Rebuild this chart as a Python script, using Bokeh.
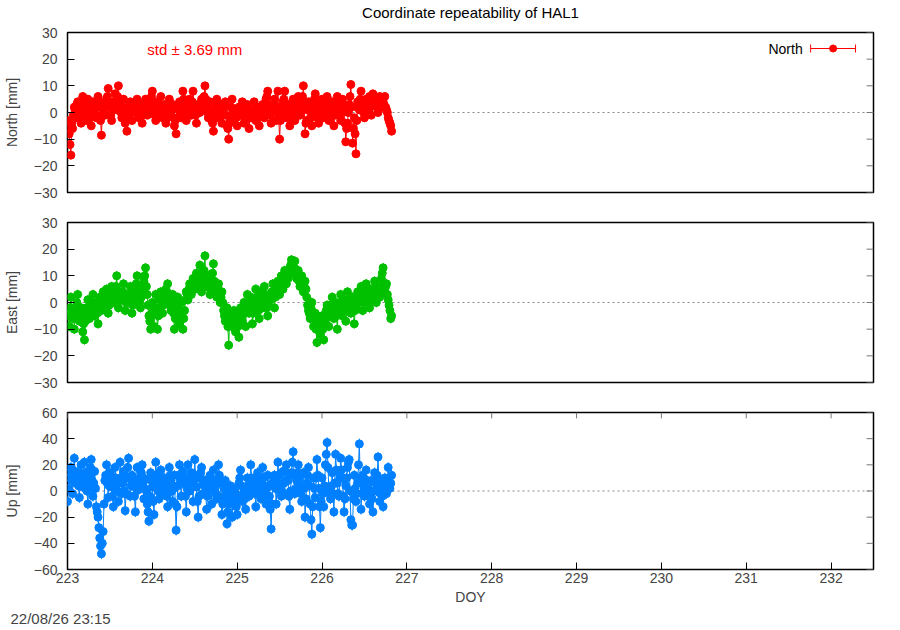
from bokeh.plotting import figure
from bokeh.layouts import column
from bokeh.models import Range1d, FixedTicker, Span, Title, ColumnDataSource
from bokeh.core.properties import value
from bokeh.embed import file_html
from bokeh.resources import INLINE

# epochs every 0.01 day starting at DOY 223
day_start = 223.0
day_step = 0.01

north = [
    -3, -6, -8, -12, -16, -4, -6, -1, 2, 1, -2, 3, 4, 2, 1, -1, -4, 2, 6, 4,
    3, 0, -3, 2, 5, 1, 0, -2, -5, 1, 4, 2, 1, -1, -2, 3, 6, 4, 2, -3,
    -8.5, -1, 3, 1, -1, 2, 5, 6, 9, 4, 2, -1, -3, 1, 4, 3, 7, 2, 1, 6,
    10, 5, 3, 0, -2, 2, 5, 0, -4, -3, -7, -2, 1, 3, 4, 0, -3, 1, 2, 3,
    0, 2, 5, 1, -2, 0, 3, -1, -4, -1, 1, 3, 5, 2, -1, 1, 2, 0, 4, 6,
    8, 4, 2, -1, -3, 1, 4, 2, 0, 3, 6, 1, -2, 0, 3, 1, -4, -2, 1, 3,
    5, 2, -1, 1, 3, -2, -5, -3, -8, -2, 2, 1, 4, 0, -2, 3, 8, 5, 3, 0,
    -3, -1, 1, 3, 5, 2, -1, 4, 8, 3, 2, -1, -4, 0, 3, 1, 0, 2, 5, 4,
    2, 6, 10, 5, 3, 0, -2, 1, 4, 0, -3, -4, -7, -2, 1, 3, 5, 1, -2, 0,
    3, 0, -4, -1, 0, 2, 4, -1, -5, -6, -10, -4, -2, 2, 5, 1, -3, -1, 1, -2,
    -5, -1, 2, 0, -1, 1, 4, 0, -4, -2, 0, 1, 3, -2, -6, -2, 1, 0, -2, 1,
    4, 0, -3, -1, 2, -2, -5, -1, 0, 2, 3, 0, -2, 2, 5, 6, 8, 3, 1, -1,
    -4, 0, 2, 3, 5, 1, -3, 2, 8, -2, -10, -3, 0, 2, 4, 5, 8, 2, -2, 1,
    3, -1, -5, -2, 1, 3, 5, 0, -3, 0, 2, 4, 6, 2, -1, 1, 3, 6, 10, 4,
    -8, -4, -3, 1, 4, 2, 1, -2, -5, -1, 3, 5, 7, 3, 0, -2, -4, -1, 2, 3,
    5, 1, -2, 0, 3, 4, 6, 2, -3, -1, 1, 2, 4, -1, -5, -1, 2, 4, 6, 3,
    0, -1, -3, 1, 5, 3, 2, -4, -11, -6, -4, 0, 3, 6, 10.5, 2, -11.5, -6, -2, -8,
    -15.5, -3, 4, 2, 1, 5, 8, 4, 3, 0, -2, 2, 5, 3, 1, 4, 6, 2, -1, 3,
    7, 5, 3, 4, 5, 2, 0, 3, 6, 4, 2, 5, 4, 3, 6, 2, 1, 0, -2, -3,
    -4, -5, -7,
]
east = [
    -5, -3, -9, -2, 2, -3, -6, -4, -10, -5, -3, 0, 3, -2, -7, -4, -2, -6, -11, -8,
    -14, -7, -4, -2, 1, -3, -6, -1, -2, 0, 3, -1, -5, -3, 0, -4, -8, -3, 2, 0,
    -3, 1, 4, 2, -1, 3, 5, 0, -4, -1, 2, 4, 6, 2, 0, 1, 3, 6, 10, 4,
    -2, 1, 4, 3, 1, 4, 7, 2, -3, 0, 3, 2, 0, 3, 6, 1, -4, -1, 2, 3,
    5, 7, 10, 4, 1, 0, -2, 2, 4, 6, 8, 10, 13, 6, 3, -1, -5, -7, -10, -4,
    0, -4, -9, -2, 3, -3, -10, -5, -2, 1, 4, 0, -4, -1, 2, 3, 5, 4, 7, 3,
    1, -1, -3, 0, 3, -4, -10, -6, -5, -1, 2, -3, -8, -3, 0, -5, -10, -6, -3, 1,
    4, 3, 1, 5, 7, 4, 3, 6, 9, 7, 5, 8, 11, 8, 6, 10, 14, 8, 4, 7,
    8, 12, 17.5, 9, 6, 8, 10, 6, 3, 5, 8, 11, 14.5, 8, 5, 3, 2, 5, 7, 3,
    0, 2, 4, 0, -3, -5, -7, -4, -2, -9, -16, -8, -6, -7, -9, -5, -3, -7, -11, -8,
    -5, -9, -13, -6, -2, -4, -7, -3, 0, -4, -9, -2, 3, 0, -4, -1, 2, -3, -8, -4,
    -3, 1, 5, 2, -1, -3, -6, 0, 4, 1, -2, 2, 6, 3, 0, -2, -5, -1, 3, 1,
    2, 4, 7, 2, -2, 2, 5, 6, 8, 5, 3, 6, 10, 7, 5, 9, 12, 9, 7, 10,
    9, 11, 13, 14, 16, 12, 11, 13, 15.5, 11, 9, 10, 12, 8, 6, 8, 10, 7, 4, 6,
    8, 5, 2, -1, -3, -4, -6, -2, 0, -5, -9, -6, -4, -10, -15, -9, -7, -10, -12, -7,
    -5, -10, -14, -8, -6, -3, -1, -5, -9, -5, -3, -1, 2, -2, -6, -3, 0, -5, -10, -4,
    -2, 0, 3, -1, -5, -2, 1, -3, -7, -1, 4, 1, -1, -2, -4, 0, 2, -3, -8, -3,
    -2, 1, 4, 2, 0, 3, 6, 1, -3, 0, 2, 4, 7, 3, 1, 0, -2, 2, 5, 4,
    3, 5, 8, 3, 0, 2, 5, 4, 2, 6, 9, 11, 13, 7, 4, 6, 7, 3, 1, -1,
    -3, -6, -5,
]
up = [
    -8, 2, 10, 14, 18, 8, -2, 12, 25, 15, 6, 10, 14, 4, -5, 8, 20, 12, 3, 10,
    22, 14, 8, 0, -10, 2, 12, 18, 24, 8, -4, 6, 15, 2, -12, -16, -20, -28, -36, -42,
    -48, -40, -31, -10, 8, 12, 20, 6, -5, 4, 14, 8, 3, -4, -12, 4, 18, 10, 6, 0,
    -8, 6, 22, 10, -2, 6, 15, 0, -15, -2, 10, 18, 25, 10, -4, 4, 12, 8, 5, -4,
    -16, 2, 18, 8, 1, 6, 10, 14, 20, 6, -6, 2, 9, 0, -10, -16, -23, -4, 14, 8,
    3, -8, -18, 4, 22, 12, 6, 0, -6, 6, 16, 6, -2, 4, 10, 6, 4, -4, -12, 2,
    18, 12, 8, 0, -8, 2, 12, -10, -30, -12, 4, 12, 20, 8, -4, 6, 15, 10, 6, -4,
    -16, 2, 20, 10, 0, 6, 14, 4, -8, 8, 24, 12, 3, -8, -20, -4, 10, 14, 18, 8,
    -2, 4, 8, -2, -14, -4, 4, 8, 12, 2, -10, 2, 16, 8, 2, -2, -6, 6, 20, 12,
    6, -6, -18, -10, -4, 2, 8, -6, -25, -16, -10, -2, 4, -6, -20, -8, 2, -2, -6, -12,
    -18, -6, 6, 10, 16, 4, -8, -2, 2, -6, -14, -2, 10, 4, -4, 6, 20, 10, 0, 4,
    8, -2, -12, 2, 14, 8, 2, -2, -6, 6, 18, 10, 4, -2, -10, 2, 12, 4, -4, -14,
    -29, -10, 6, 8, 12, 2, -10, 6, 22, 12, 4, 0, -4, 6, 15, 6, -2, 8, 20, 14,
    8, -4, -14, 0, 14, 22, 30, 12, -2, 2, 8, 14, 20, 10, 4, -2, -8, 4, 14, 2,
    -20, -6, 6, 12, 18, 4, -10, -22, -33, -12, 10, 2, -5, 10, 24, 12, 2, -12, -28, -8,
    10, -2, -12, 4, 20, 28, 37, 18, 2, -2, -6, 4, 14, -2, -16, 6, 28, 16, 6, -2,
    -4, 10, 25, 16, 10, -4, -16, -6, 4, 10, 18, 22, 24, 0, -22, -26, -26, -6, 12, 2,
    -8, -2, 6, 20, 36, 10, -14, -2, 12, 4, -4, 6, 16, 8, 2, -4, -10, 0, 8, -6,
    -16, 0, 14, 6, 0, 12, 26, 8, -8, -2, 4, -4, -12, 0, 10, 4, -2, 8, 18, 8,
    2, 6, 12,
]
sigmas = {"North": 1.5, "East": 1.8, "Up": 4.0}
stds = {"North": 3.69, "East": 5.48, "Up": 11.57}
colors = {"North": "#ff0000", "East": "#00c000", "Up": "#0080ff"}
x_ticks = list(range(223, 233))

FONT = "Liberation Sans"
FRAME_W, FRAME_H = 808, 160
LEFT, RIGHT = 65, 19
TOTAL_W = LEFT + FRAME_W + RIGHT
X0, X1 = 223, 232.5
x_range = Range1d(X0, X1)
PX_X = (X1 - X0) / FRAME_W


def xd(px):
    # picture pixel -> DOY
    return X0 + (px - LEFT) * PX_X


def yd(py, top, ylim):
    # picture pixel -> mm, for a frame whose top edge is at `top`
    return ylim - (py - top) * 2 * ylim / FRAME_H


def style_axis(a, label_standoff):
    a.axis_line_color = None
    a.major_tick_in = 7
    a.major_tick_out = 0
    a.minor_tick_line_color = None
    a.major_tick_line_color = "black"
    a.major_label_text_font = FONT
    a.major_label_text_font_size = "14px"
    a.major_label_standoff = label_standoff
    a.axis_label_text_font = FONT
    a.axis_label_text_font_size = "14px"
    a.axis_label_text_font_style = "normal"


def panel(name, values, ylim, ystep, top_px, b_top, b_bottom, last=False):
    color = colors[name]
    p = figure(width=TOTAL_W, height=b_top + FRAME_H + b_bottom,
               x_range=x_range, y_range=Range1d(-ylim, ylim),
               x_axis_type="linear" if last else None,
               output_backend="svg", toolbar_location=None,
               min_border_left=LEFT, min_border_right=RIGHT,
               min_border_top=b_top, min_border_bottom=b_bottom)
    p.grid.visible = False
    p.outline_line_color = "black"
    p.outline_line_width = 1.5

    y_ticks = list(range(-ylim, ylim + 1, ystep))
    ax = p.yaxis[0]
    ax.ticker = FixedTicker(ticks=y_ticks)
    ax.axis_label = f"{name} [mm]"
    style_axis(ax, 10)
    ax.axis_label_standoff = 11

    # mirrored ticks on the right edge
    tk = 7 * PX_X
    p.segment(x0=[X1] * len(y_ticks), y0=y_ticks, x1=[X1 - tk] * len(y_ticks), y1=y_ticks,
              color="#777777", line_width=1)

    if last:
        bx = p.xaxis[0]
        bx.ticker = FixedTicker(ticks=x_ticks)
        bx.axis_label = "DOY"
        style_axis(bx, 3)
        bx.axis_label_standoff = 3
        # mirrored ticks on the top edge
        ty = 6 * 2 * ylim / FRAME_H
        p.segment(x0=x_ticks, y0=[ylim] * len(x_ticks), x1=x_ticks, y1=[ylim - ty] * len(x_ticks),
                  color="#777777", line_width=1)

    # zero reference line
    p.add_layout(Span(location=0, dimension="width", line_color="#888888",
                      line_dash="2 3", line_width=1, level="underlay"))

    sig = sigmas[name]
    doy = [day_start + day_step * i for i in range(len(values))]
    src = ColumnDataSource(dict(x=doy, y=values,
                                lo=[v - sig for v in values],
                                hi=[v + sig for v in values]))
    p.segment(x0="x", y0="lo", x1="x", y1="hi", source=src, color=color, line_width=1)
    p.line("x", "y", source=src, color=color, line_width=1)
    p.scatter("x", "y", source=src, size=8, color=color)

    # std annotation
    p.text(x=[xd(145)], y=[yd(49, top_px, ylim)], text=[f"std \u00b1 {stds[name]:.2f} mm"],
           text_color=color, text_font=value(FONT), text_font_size="15px",
           text_baseline="middle")

    # key: label on the left, error-bar sample on the right
    ly = yd(48, top_px, ylim)
    cap = 4 * 2 * ylim / FRAME_H
    p.text(x=[xd(802)], y=[ly], text=[name], text_color="black", text_font=value(FONT),
           text_font_size="14px", text_baseline="middle", text_align="right")
    p.segment(x0=[xd(810), xd(810), xd(855)], y0=[ly, ly - cap, ly - cap],
              x1=[xd(855), xd(810), xd(855)], y1=[ly, ly + cap, ly + cap],
              color=color, line_width=1)
    p.scatter(x=[xd(832.5)], y=[ly], size=7, color=color)
    return p


# strip above the first panel that carries the chart title
TITLE_H = 22
head = figure(width=TOTAL_W, height=TITLE_H, x_range=x_range, y_range=Range1d(0, TITLE_H),
              x_axis_type=None, y_axis_type=None, output_backend="svg", toolbar_location=None,
              min_border_left=LEFT, min_border_right=RIGHT, min_border_top=0, min_border_bottom=0,
              outline_line_color=None)
head.grid.visible = False
head.text(x=[(X0 + X1) / 2], y=[TITLE_H - 12], text=["Coordinate repeatability of HAL1"],
          text_color="black", text_font=value(FONT), text_font_size="15px",
          text_align="center", text_baseline="middle")

p1 = panel("North", north, 30, 10, 32, 32 - TITLE_H, 15)
p2 = panel("East", east, 30, 10, 222, 15, 15)
p3 = panel("Up", up, 60, 20, 412, 15, 54, last=True)
p3.add_layout(Title(text="22/08/26 23:15", align="left", offset=-57, standoff=0,
                    text_font=FONT, text_font_size="15px", text_font_style="normal"), "below")

p = column(head, p1, p2, p3, spacing=0)
open("out.html", "w").write(file_html(p, INLINE))
